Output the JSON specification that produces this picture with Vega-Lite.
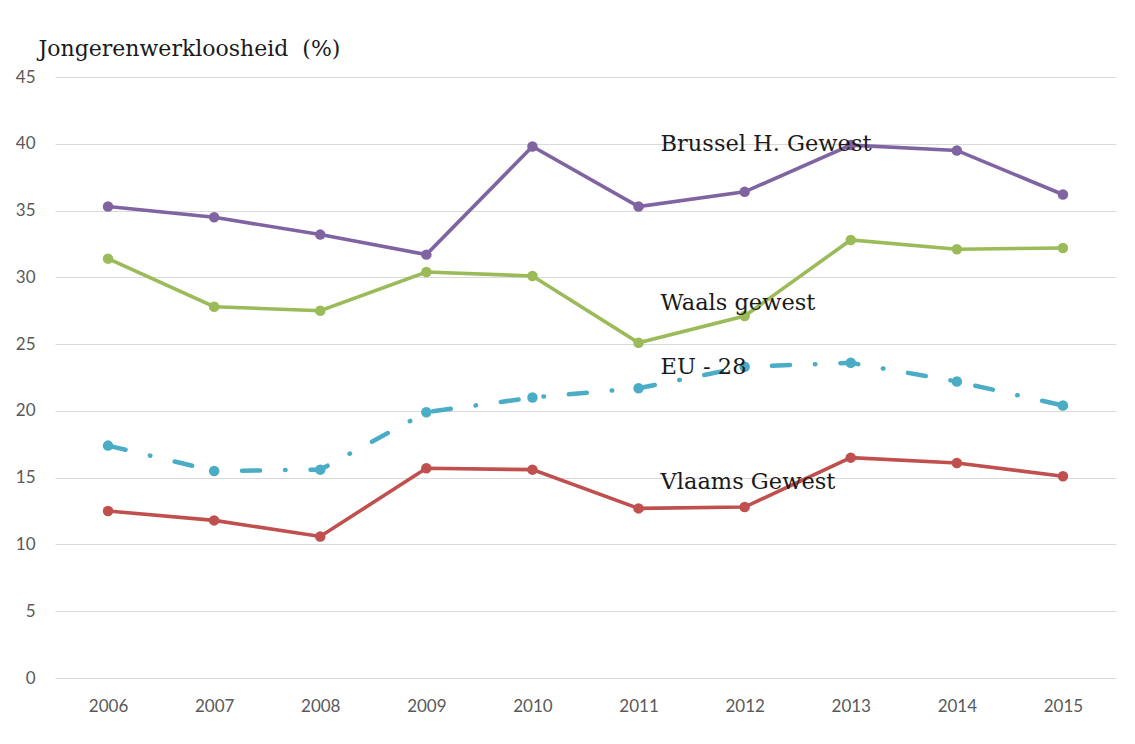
{
  "$schema": "https://vega.github.io/schema/vega-lite/v6.json",
  "width": 1061,
  "height": 601,
  "autosize": {"type": "none"},
  "padding": {"left": 55, "top": 77, "right": 19, "bottom": 66},
  "background": "white",
  "config": {
    "view": {"stroke": null},
    "axisY": {"titleFont": "DejaVu Serif", "titleFontSize": 22, "titleFontWeight": "normal", "titleColor": "#1a1a1a"}
  },
  "datasets": {
    "series": [
      {"reeks": "Brussel", "jaar": "2006", "waarde": 35.3},
      {"reeks": "Brussel", "jaar": "2007", "waarde": 34.5},
      {"reeks": "Brussel", "jaar": "2008", "waarde": 33.2},
      {"reeks": "Brussel", "jaar": "2009", "waarde": 31.7},
      {"reeks": "Brussel", "jaar": "2010", "waarde": 39.8},
      {"reeks": "Brussel", "jaar": "2011", "waarde": 35.3},
      {"reeks": "Brussel", "jaar": "2012", "waarde": 36.4},
      {"reeks": "Brussel", "jaar": "2013", "waarde": 39.9},
      {"reeks": "Brussel", "jaar": "2014", "waarde": 39.5},
      {"reeks": "Brussel", "jaar": "2015", "waarde": 36.2},
      {"reeks": "Waals", "jaar": "2006", "waarde": 31.4},
      {"reeks": "Waals", "jaar": "2007", "waarde": 27.8},
      {"reeks": "Waals", "jaar": "2008", "waarde": 27.5},
      {"reeks": "Waals", "jaar": "2009", "waarde": 30.4},
      {"reeks": "Waals", "jaar": "2010", "waarde": 30.1},
      {"reeks": "Waals", "jaar": "2011", "waarde": 25.1},
      {"reeks": "Waals", "jaar": "2012", "waarde": 27.1},
      {"reeks": "Waals", "jaar": "2013", "waarde": 32.8},
      {"reeks": "Waals", "jaar": "2014", "waarde": 32.1},
      {"reeks": "Waals", "jaar": "2015", "waarde": 32.2},
      {"reeks": "EU", "jaar": "2006", "waarde": 17.4},
      {"reeks": "EU", "jaar": "2007", "waarde": 15.5},
      {"reeks": "EU", "jaar": "2008", "waarde": 15.6},
      {"reeks": "EU", "jaar": "2009", "waarde": 19.9},
      {"reeks": "EU", "jaar": "2010", "waarde": 21.0},
      {"reeks": "EU", "jaar": "2011", "waarde": 21.7},
      {"reeks": "EU", "jaar": "2012", "waarde": 23.3},
      {"reeks": "EU", "jaar": "2013", "waarde": 23.6},
      {"reeks": "EU", "jaar": "2014", "waarde": 22.2},
      {"reeks": "EU", "jaar": "2015", "waarde": 20.4},
      {"reeks": "Vlaams", "jaar": "2006", "waarde": 12.5},
      {"reeks": "Vlaams", "jaar": "2007", "waarde": 11.8},
      {"reeks": "Vlaams", "jaar": "2008", "waarde": 10.6},
      {"reeks": "Vlaams", "jaar": "2009", "waarde": 15.7},
      {"reeks": "Vlaams", "jaar": "2010", "waarde": 15.6},
      {"reeks": "Vlaams", "jaar": "2011", "waarde": 12.7},
      {"reeks": "Vlaams", "jaar": "2012", "waarde": 12.8},
      {"reeks": "Vlaams", "jaar": "2013", "waarde": 16.5},
      {"reeks": "Vlaams", "jaar": "2014", "waarde": 16.1},
      {"reeks": "Vlaams", "jaar": "2015", "waarde": 15.1}
    ],
    "labels": [
      {"label": "Brussel H. Gewest", "jaar": "2011", "waarde": 40.0},
      {"label": "Waals gewest", "jaar": "2011", "waarde": 28.1},
      {"label": "EU - 28", "jaar": "2011", "waarde": 23.3},
      {"label": "Vlaams Gewest", "jaar": "2011", "waarde": 14.7}
    ]
  },
  "encoding": {
    "x": {
      "field": "jaar", "type": "ordinal",
      "scale": {"type": "point", "padding": 0.5},
      "axis": {
        "title": null, "labelAngle": 0, "ticks": false, "domain": false,
        "labelFont": "Lato", "labelFontSize": 17, "labelColor": "#595959",
        "labelPadding": 20, "grid": false
      }
    },
    "y": {
      "field": "waarde", "type": "quantitative",
      "scale": {"domain": [0, 45], "nice": false, "zero": true},
      "axis": {
        "values": [0, 5, 10, 15, 20, 25, 30, 35, 40, 45],
        "title": "Jongerenwerkloosheid\u00a0\u00a0(%)",
        "titleAngle": 0, "titleAlign": "left", "titleBaseline": "middle",
        "titleX": -17, "titleY": -29,
        "titleFont": "DejaVu Serif", "titleFontSize": 22, "titleFontWeight": "normal", "titleColor": "#1a1a1a",
        "ticks": false, "domain": false,
        "labelFont": "Lato", "labelFontSize": 17, "labelColor": "#595959",
        "labelPadding": 20,
        "grid": true, "gridColor": "#d9d9d9", "gridWidth": 1
      }
    }
  },
  "layer": [
    {
      "data": {"name": "series"},
      "transform": [{"filter": "datum.reeks !== 'EU'"}],
      "mark": {"type": "line", "strokeWidth": 3.6},
      "encoding": {
        "detail": {"field": "reeks"},
        "color": {"field": "reeks", "type": "nominal", "legend": null,
          "scale": {"domain": ["Brussel", "Waals", "EU", "Vlaams"], "range": ["#8064A2", "#9BBB59", "#4BACC6", "#C0504D"]}}
      }
    },
    {
      "data": {"name": "series"},
      "transform": [{"filter": "datum.reeks === 'EU'"}],
      "mark": {"type": "line", "strokeWidth": 4.5, "strokeDash": [18, 25, 0.5, 25], "strokeCap": "round", "color": "#4BACC6"},
      "encoding": {}
    },
    {
      "data": {"name": "series"},
      "mark": {"type": "circle", "size": 110, "opacity": 1},
      "encoding": {
        "color": {"field": "reeks", "type": "nominal", "legend": null,
          "scale": {"domain": ["Brussel", "Waals", "EU", "Vlaams"], "range": ["#8064A2", "#9BBB59", "#4F81BD", "#C0504D"]}}
      }
    },
    {
      "data": {"name": "labels"},
      "mark": {"type": "text", "align": "left", "baseline": "middle", "dx": 22, "font": "DejaVu Serif", "fontSize": 22.5, "color": "#1a1a1a"},
      "encoding": {"text": {"field": "label"}}
    }
  ]
}
